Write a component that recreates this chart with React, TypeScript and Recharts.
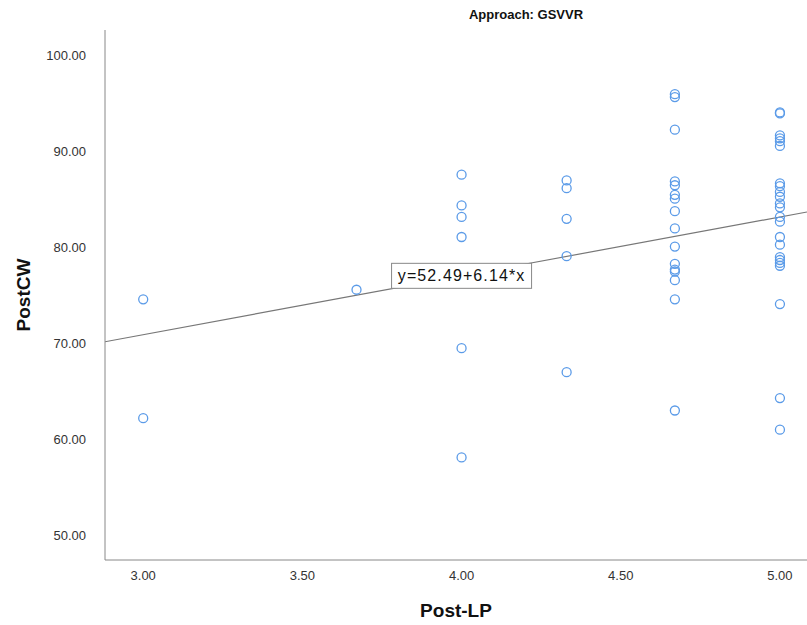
import { ScatterChart, Scatter, XAxis, YAxis, ReferenceLine, ReferenceDot } from 'recharts';

// Post-LP scores with their PostCW values (approach GSVVR)
const postLP = [
  3.0, 3.0,
  3.67,
  4.0, 4.0, 4.0, 4.0, 4.0, 4.0,
  4.33, 4.33, 4.33, 4.33, 4.33,
  4.67, 4.67, 4.67, 4.67, 4.67, 4.67, 4.67, 4.67, 4.67, 4.67, 4.67, 4.67, 4.67, 4.67, 4.67, 4.67,
  5.0, 5.0, 5.0, 5.0, 5.0, 5.0, 5.0, 5.0, 5.0, 5.0, 5.0, 5.0, 5.0, 5.0, 5.0, 5.0, 5.0, 5.0, 5.0, 5.0, 5.0, 5.0, 5.0,
];
const postCW = [
  74.6, 62.2,
  75.6,
  87.6, 84.4, 83.2, 81.1, 69.5, 58.1,
  87.0, 86.2, 83.0, 79.1, 67.0,
  96.0, 95.7, 92.3, 86.9, 86.5, 85.5, 85.1, 83.8, 82.0, 80.1, 78.3, 77.7, 77.5, 76.6, 74.6, 63.0,
  94.1, 94.0, 91.7, 91.4, 91.1, 90.6, 86.7, 86.4, 85.8, 85.3, 84.6, 84.2, 83.2, 82.7, 81.1, 80.3, 79.0, 78.7, 78.4, 78.1, 74.1, 64.3, 61.0,
];

const xTicks = [3.0, 3.5, 4.0, 4.5, 5.0];
const yTicks = [50, 60, 70, 80, 90, 100];
const xDomain = [2.88, 5.085];
const yDomain = [47.4, 102.7];

// fit line reported on the chart
const intercept = 52.49;
const slope = 6.14;
const labelAt = 4.0;

const points = postLP.map((x, i) => ({ x, y: postCW[i] }));
const fit = (x: number) => intercept + slope * x;

const font = '"Liberation Sans", Arial, sans-serif';

const Ring = (props: any) => (
  <circle cx={props.cx} cy={props.cy} r={4.5} fill="none" stroke="#5b9be8" strokeWidth={1.3} />
);

const EqLabel = (props: any) => {
  const { cx, cy } = props;
  return (
    <g>
      <rect x={cx - 70} y={cy - 12.5} width={140} height={25} fill="#fff" stroke="#888" strokeWidth={1} />
      <text x={cx} y={cy + 5.5} textAnchor="middle" fontSize={16} letterSpacing={1.1} fill="#111" fontFamily={font}>
        {`y=${intercept.toFixed(2)}+${slope.toFixed(2)}*x`}
      </text>
    </g>
  );
};

export default function App() {
  return (
    <div style={{ position: 'absolute', left: 0, top: 0, width: 807, height: 625, background: '#fff' }}>
      <ScatterChart width={807} height={625} margin={{ top: 30, right: 0, bottom: 0, left: 45 }}>
        <text x={526} y={19} textAnchor="middle" fontSize={13} fontWeight="bold" fill="#111" fontFamily={font}>
          Approach: GSVVR
        </text>
        <XAxis
          type="number"
          dataKey="x"
          domain={xDomain}
          ticks={xTicks}
          allowDataOverflow
          tickFormatter={(v: number) => v.toFixed(2)}
          tickLine={false}
          tickMargin={5}
          axisLine={{ stroke: '#888' }}
          tick={{ fill: '#333', fontSize: 13, fontFamily: font }}
          label={{ value: 'Post-LP', position: 'insideBottom', offset: 8, fontSize: 19, fontWeight: 'bold', fill: '#111', fontFamily: font }}
          height={65}
        />
        <YAxis
          type="number"
          dataKey="y"
          domain={yDomain}
          ticks={yTicks}
          allowDataOverflow
          tickFormatter={(v: number) => v.toFixed(2)}
          tickLine={false}
          tickMargin={13}
          width={60}
          axisLine={{ stroke: '#888' }}
          tick={{ fill: '#333', fontSize: 13, fontFamily: font }}
          label={{ value: 'PostCW', angle: -90, position: 'insideLeft', offset: -22, fontSize: 19, fontWeight: 'bold', fill: '#111', fontFamily: font, style: { textAnchor: 'middle' } }}
        />
        <ReferenceLine
          segment={[
            { x: xDomain[0], y: fit(xDomain[0]) },
            { x: xDomain[1], y: fit(xDomain[1]) },
          ]}
          stroke="#777"
          strokeWidth={1.2}
          ifOverflow="hidden"
        />
        <Scatter data={points} shape={Ring} isAnimationActive={false} />
        <ReferenceDot x={labelAt} y={fit(labelAt)} r={0} shape={EqLabel} ifOverflow="visible" />
      </ScatterChart>
    </div>
  );
}
